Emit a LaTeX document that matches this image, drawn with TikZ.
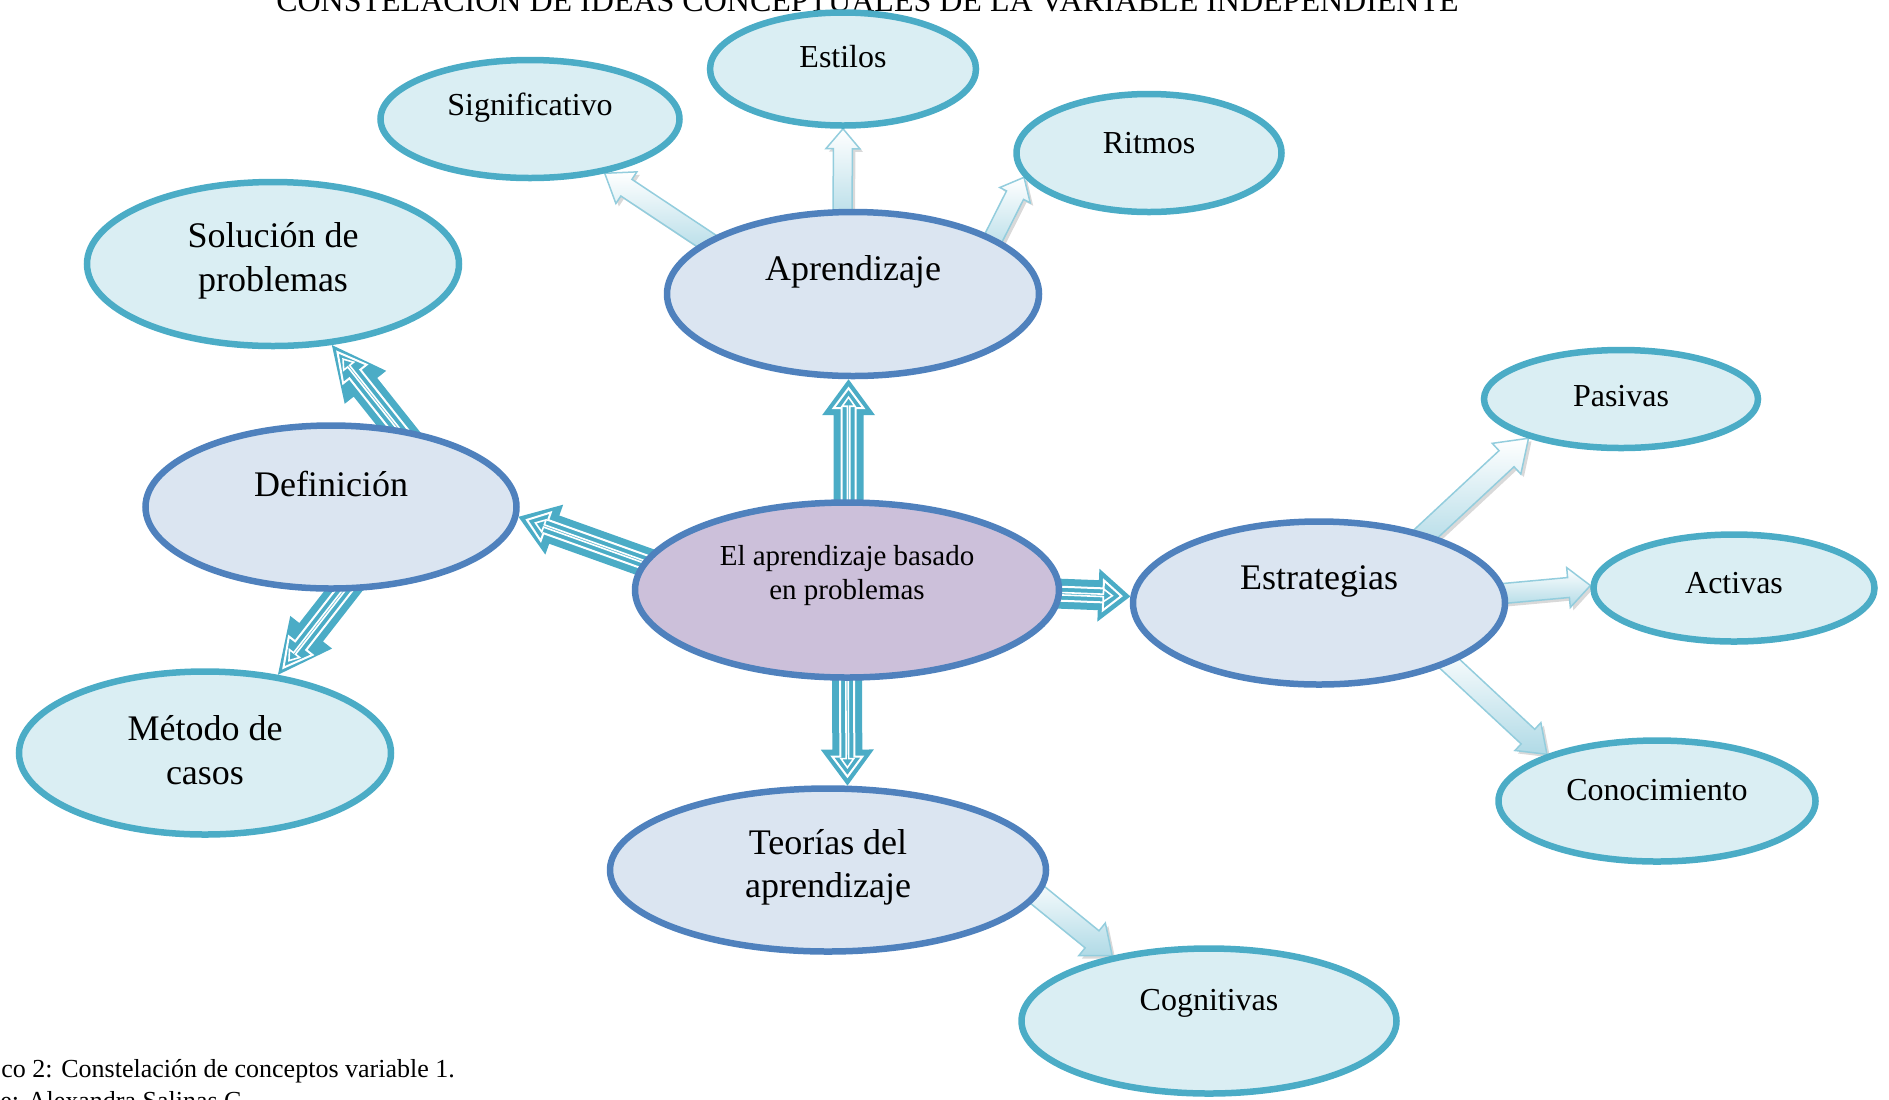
\documentclass[tikz,border=0pt]{standalone}
\usepackage{fontspec}
\setmainfont{Liberation Serif}
\usetikzlibrary{shapes.geometric,calc,shadows,backgrounds}
\definecolor{azul}{RGB}{79,129,189}
\definecolor{lila}{RGB}{204,192,218}
\definecolor{celeste}{RGB}{219,229,241}
\definecolor{agua}{RGB}{218,238,243}
\definecolor{turq}{RGB}{75,172,198}
\definecolor{turqclaro}{RGB}{147,205,221}
\definecolor{turqfondo}{RGB}{176,218,230}

\newcommand\flecha[6]{%
\path ($(#2)!-10pt!(#3)$) coordinate (fS) (#3) coordinate (fT) ($(#3)!#6!(#2)$) coordinate (fH);
\path[#1] ($(fS)!#4!90:(fT)$) -- ($(fH)!#4!90:(fT)$) -- ($(fH)!#5!90:(fT)$) -- (fT)
 -- ($(fH)!#5!-90:(fT)$) -- ($(fH)!#4!-90:(fT)$) -- ($(fS)!#4!-90:(fT)$) -- cycle;}
\newcommand\gruesa[4]{%
\flecha{fill=turq}{#1}{#2}{7.5pt}{13.25pt}{#3}
\path ($(#2)!4.5pt!(#1)$) coordinate (gT1) ($(#2)!9pt!(#1)$) coordinate (gT2);
\flecha{fill=turq,draw=white,line width=1pt}{#1}{gT1}{3.5pt}{7.5pt}{#4}
\flecha{fill=turq,draw=white,line width=.8pt}{#1}{gT2}{.6pt}{3.2pt}{4.5pt}}

\begin{document}
\begin{tikzpicture}
[x=0.5pt,y=-0.5pt,
cenbub/.style={ellipse,draw=azul,line width=3.25pt,fill=lila},
midbub/.style={ellipse,draw=azul,line width=3.25pt,fill=celeste},
outbub/.style={ellipse,draw=turq,line width=3.25pt,fill=agua},
txtgrande/.style={font=\fontsize{18}{21.7}\selectfont,align=center},
txtchico/.style={font=\fontsize{16}{19}\selectfont},
txtcentro/.style={font=\fontsize{14.5}{17}\selectfont,align=center},
clara/.style={top color=white,bottom color=turqfondo,draw=turqclaro,line width=.75pt,
 drop shadow={shadow xshift=1.5pt,shadow yshift=-1.5pt,opacity=.3}}]
\useasboundingbox (0,0) rectangle (1889,1099);
\clip (0,0) rectangle (1889,1099);
\node (titulo) at (867.5,11)[anchor=base,font=\fontsize{16}{19}\selectfont] {CONSTELACIÓN DE IDEAS CONCEPTUALES DE LA VARIABLE INDEPENDIENTE};

\node (cen) at (847,590)[cenbub,minimum width=212pt,minimum height=87.5pt,label={[txtcentro,yshift=7pt]center:El aprendizaje basado\\en problemas}] {};
\node (apr) at (853,294)[midbub,minimum width=186pt,minimum height=82pt,label={[txtgrande,yshift=11pt]center:Aprendizaje}] {};
\node (def) at (331,507)[midbub,minimum width=185.5pt,minimum height=81.5pt,label={[txtgrande,yshift=11.5pt]center:Definición}] {};
\node (est) at (1319,603)[midbub,minimum width=186pt,minimum height=81.5pt,label={[txtgrande,yshift=11pt]center:Estrategias}] {};
\node (teo) at (828,870)[midbub,minimum width=218pt,minimum height=81.5pt,label={[txtgrande,yshift=1.5pt]center:Teorías del\\aprendizaje}] {};
\node (sol) at (273,264)[outbub,minimum width=186pt,minimum height=82pt,label={[txtgrande,yshift=1.5pt]center:Solución de\\problemas}] {};
\node (met) at (205,753)[outbub,minimum width=186pt,minimum height=81.5pt,label={[txtgrande,yshift=1.5pt]center:Método de\\casos}] {};
\node (sig) at (530,119)[outbub,minimum width=149.5pt,minimum height=59pt,label={[txtchico,yshift=5.5pt]center:Significativo}] {};
\node (sti) at (843,69)[outbub,minimum width=133pt,minimum height=56.5pt,label={[txtchico,yshift=6pt]center:Estilos}] {};
\node (rit) at (1149,153)[outbub,minimum width=132.5pt,minimum height=59pt,label={[txtchico,yshift=5pt]center:Ritmos}] {};
\node (pas) at (1621,399)[outbub,minimum width=137pt,minimum height=49pt,label={[txtchico,yshift=1.5pt]center:Pasivas}] {};
\node (act) at (1734,588)[outbub,minimum width=140.5pt,minimum height=53.5pt,label={[txtchico,yshift=2.5pt]center:Activas}] {};
\node (con) at (1657,801)[outbub,minimum width=158.5pt,minimum height=60.5pt,label={[txtchico,yshift=5.5pt]center:Conocimiento}] {};
\node (cog) at (1209,1021)[outbub,minimum width=187.5pt,minimum height=72.5pt,label={[txtchico,yshift=9pt]center:Cognitivas}] {};

\node (pie1) at (1,1077)[anchor=base west,inner sep=0pt,font=\fontsize{13}{16}\selectfont] {co 2: Constelación de conceptos variable 1.};
\node (pie2) at (0,1109)[anchor=base west,inner sep=0pt,font=\fontsize{13}{16}\selectfont] {e: Alexandra Salinas C.};

\begin{pgfonlayer}{background}
\gruesa{cen.89}{apr.-93}{18pt}{10pt}
\gruesa{cen.172}{def.-3}{19pt}{10pt}
\gruesa{cen.-1}{est.178}{16pt}{9pt}
\gruesa{cen.-90}{teo.77}{18pt}{10pt}
\gruesa{def.50}{sol.-54}{27pt}{14pt}
\gruesa{def.-82}{met.47}{27pt}{14pt}
\flecha{clara}{apr.160}{sig.-36}{5pt}{9.5pt}{13pt}
\flecha{clara}{apr.97}{sti.-90}{4.75pt}{8.5pt}{10pt}
\flecha{clara}{apr.22}{rit.-169}{4.75pt}{8.5pt}{10pt}
\flecha{clara}{est.33}{pas.-157}{5.5pt}{10.5pt}{15pt}
\flecha{clara}{est.3}{act.179}{5pt}{10pt}{11pt}
\flecha{clara}{est.-25}{con.157}{5pt}{9.5pt}{13pt}
\flecha{clara}{teo.-7}{cog.146}{5.5pt}{10.5pt}{13pt}
\end{pgfonlayer}
\end{tikzpicture}
\end{document}
